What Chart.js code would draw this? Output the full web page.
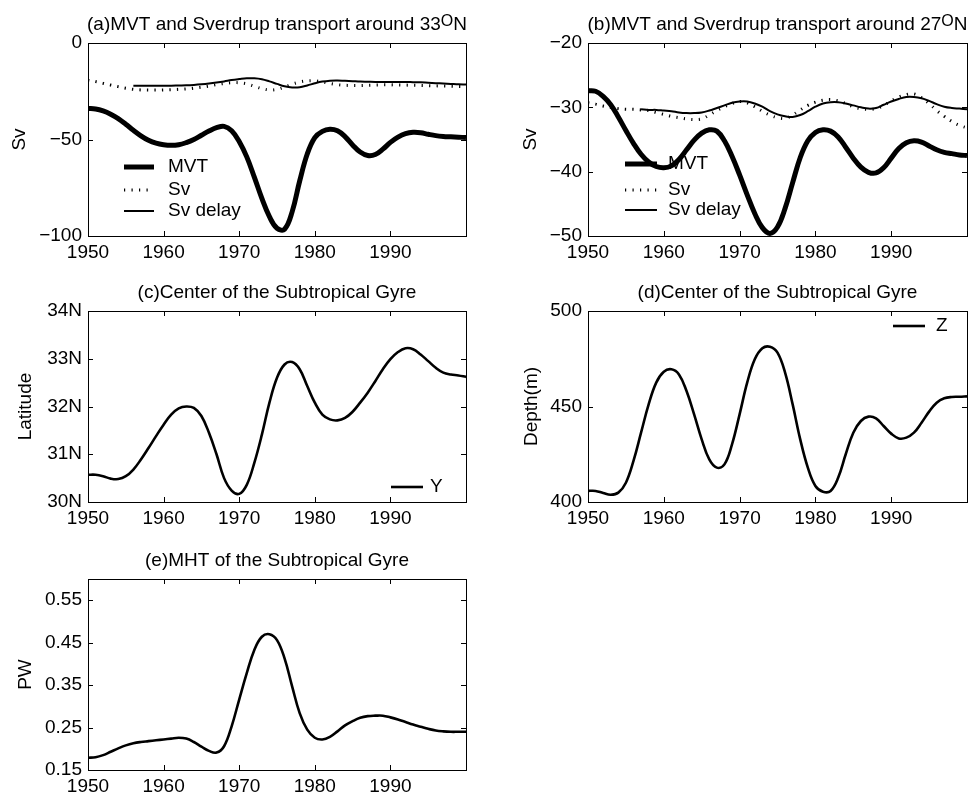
<!DOCTYPE html>
<html>
<head>
<meta charset="utf-8">
<script src="https://cdn.jsdelivr.net/npm/chart.js@4.4.1/dist/chart.umd.min.js"></script>
<style>
  body { margin: 0; background: #fff; }
  #wrap { position: relative; width: 974px; height: 798px; }
  canvas { position: absolute; }
</style>
</head>
<body>
<div id="wrap">
  <canvas id="chartA" width="487" height="268" style="left:0;top:0"></canvas>
  <canvas id="chartB" width="487" height="268" style="left:487px;top:0"></canvas>
  <canvas id="chartC" width="487" height="268" style="left:0;top:268px"></canvas>
  <canvas id="chartD" width="487" height="268" style="left:487px;top:268px"></canvas>
  <canvas id="chartE" width="487" height="262" style="left:0;top:536px"></canvas>
</div>
<script>
const FONT = '"Liberation Sans", Arial, Helvetica, sans-serif';

const years = [1950,1951,1952,1953,1954,1955,1956,1957,1958,1959,
  1960,1961,1962,1963,1964,1965,1966,1967,1968,1969,
  1970,1971,1972,1973,1974,1975,1976,1977,1978,1979,
  1980,1981,1982,1983,1984,1985,1986,1987,1988,1989,
  1990,1991,1992,1993,1994,1995,1996,1997,1998,1999,2000];
const xTicks = [1950, 1960, 1970, 1980, 1990];

// (a) around 33N
const mvtA = [-33.9,-34.2,-35.2,-36.9,-39.2,-42.1,-45.2,-48.1,-50.4,-51.9,
  -52.7,-53.0,-52.7,-51.6,-50.0,-47.8,-45.6,-43.9,-43.2,-45.5,
  -51.0,-59.0,-69.5,-80.5,-90.0,-96.0,-96.5,-87.5,-71.5,-57.5,
  -49.0,-45.8,-44.7,-45.5,-48.5,-52.8,-56.5,-58.3,-57.8,-55.0,
  -51.5,-48.8,-47.0,-46.3,-46.5,-47.3,-48.0,-48.4,-48.6,-48.8,-49.0];
const svA = [-19.3,-20.0,-20.9,-21.8,-22.6,-23.4,-24.0,-24.3,-24.4,-24.4,
  -24.3,-24.2,-24.0,-23.8,-23.4,-22.9,-22.3,-21.6,-21.0,-20.6,
  -20.6,-21.2,-22.4,-23.6,-24.3,-24.0,-22.8,-21.3,-20.2,-19.6,
  -19.6,-20.2,-21.0,-21.6,-21.9,-22.0,-22.0,-21.9,-21.8,-21.7,
  -21.7,-21.7,-21.8,-21.9,-22.0,-22.1,-22.2,-22.3,-22.4,-22.5,-22.6];
const svDelayA = [null,null,null,null,null,null,-22.1,-22.1,-22.1,-22.1,
  -22.1,-22.1,-22.0,-21.9,-21.7,-21.4,-21.0,-20.5,-19.9,-19.2,
  -18.7,-18.3,-18.3,-18.8,-19.9,-21.2,-22.4,-23.0,-22.9,-22.0,
  -20.9,-20.0,-19.5,-19.4,-19.6,-19.8,-20.0,-20.1,-20.2,-20.2,
  -20.2,-20.2,-20.2,-20.3,-20.4,-20.6,-20.8,-21.0,-21.2,-21.4,-21.5];
const yTicksA = [-100, -50, 0];

// (b) around 27N
const mvtB = [-27.4,-27.5,-28.3,-29.6,-31.5,-33.6,-35.6,-37.3,-38.5,-39.2,
  -39.4,-39.1,-38.1,-36.6,-35.1,-34.0,-33.5,-33.7,-35.2,-37.6,
  -40.5,-43.6,-46.5,-48.7,-49.6,-48.6,-45.7,-41.7,-37.8,-35.2,
  -33.9,-33.5,-33.7,-34.6,-36.2,-37.9,-39.3,-40.1,-40.2,-39.4,
  -37.9,-36.4,-35.5,-35.2,-35.4,-36.0,-36.6,-37.0,-37.2,-37.4,-37.5];
const svB = [-29.3,-29.5,-29.8,-30.0,-30.2,-30.3,-30.3,-30.4,-30.5,-30.8,
  -31.1,-31.4,-31.6,-31.8,-31.9,-31.8,-31.2,-30.5,-29.9,-29.4,
  -29.1,-29.3,-29.9,-30.6,-31.2,-31.6,-31.7,-31.2,-30.4,-29.7,
  -29.2,-28.9,-28.8,-29.0,-29.4,-29.9,-30.2,-30.3,-30.2,-29.7,
  -29.0,-28.4,-28.0,-27.9,-28.5,-29.4,-30.5,-31.4,-32.2,-32.8,-33.2];
const svDelayB = [null,null,null,null,null,null,null,-30.3,-30.4,-30.4,
  -30.5,-30.6,-30.8,-30.9,-30.9,-30.8,-30.5,-30.1,-29.7,-29.3,
  -29.1,-29.1,-29.4,-29.9,-30.6,-31.1,-31.4,-31.5,-31.2,-30.6,
  -29.9,-29.4,-29.2,-29.2,-29.4,-29.7,-30.0,-30.2,-30.1,-29.6,
  -29.1,-28.7,-28.4,-28.4,-28.6,-29.0,-29.5,-29.9,-30.1,-30.2,-30.3];
const yTicksB = [-50, -40, -30, -20];

// (c) latitude of gyre centre
const latY = [30.57,30.57,30.54,30.49,30.48,30.54,30.68,30.89,31.13,31.38,
  31.62,31.83,31.96,32.0,31.97,31.8,31.45,31.0,30.5,30.24,
  30.17,30.36,30.82,31.41,32.08,32.6,32.88,32.93,32.78,32.43,
  32.08,31.83,31.73,31.71,31.76,31.89,32.08,32.29,32.53,32.78,
  32.99,33.14,33.22,33.2,33.09,32.95,32.81,32.71,32.67,32.65,32.62];
const yTicksC = [30, 31, 32, 33, 34];

// (d) depth of gyre centre
const depthZ = [405.8,405.8,404.7,403.8,404.9,410.1,421.5,436.3,451.1,462.5,
  468.2,469.5,466.8,458.1,445.9,432.8,422.3,418.0,419.7,430.2,
  445.9,462.5,474.7,480.5,481.3,478.2,467.7,451.1,432.8,418.0,
  408.4,405.4,405.8,412.7,425.0,436.3,442.4,444.7,443.8,439.8,
  435.8,433.3,433.7,436.3,441.5,447.3,452.0,454.3,455.0,455.1,455.3];
const yTicksD = [400, 450, 500];

// (e) MHT
const mhtE = [0.179,0.18,0.185,0.193,0.201,0.208,0.213,0.216,0.218,0.22,
  0.222,0.224,0.226,0.224,0.216,0.205,0.195,0.191,0.206,0.253,
  0.316,0.378,0.433,0.464,0.47,0.456,0.413,0.347,0.284,0.245,
  0.226,0.222,0.228,0.241,0.255,0.265,0.273,0.277,0.278,0.278,
  0.274,0.269,0.263,0.257,0.252,0.247,0.243,0.241,0.24,0.24,0.24];
const yTicksE = [0.15, 0.25, 0.35, 0.45, 0.55];

Chart.defaults.font.family = FONT;
Chart.defaults.font.size = 19;
Chart.defaults.color = '#000';

// matlab style box with inward ticks on all sides
const boxTicks = {
  id: 'boxTicks',
  afterDatasetsDraw(chart) {
    const {ctx, chartArea: a, scales: {x, y}} = chart;
    ctx.save();
    ctx.strokeStyle = '#000';
    ctx.lineWidth = 1;
    ctx.beginPath();
    x.ticks.forEach(t => {
      if (t.value <= x.min || t.value >= x.max) return;
      const px = Math.round(x.getPixelForValue(t.value)) + 0.5;
      ctx.moveTo(px, a.bottom); ctx.lineTo(px, a.bottom - 5);
      ctx.moveTo(px, a.top); ctx.lineTo(px, a.top + 5);
    });
    y.ticks.forEach(t => {
      if (t.value <= y.min || t.value >= y.max) return;
      const py = Math.round(y.getPixelForValue(t.value)) + 0.5;
      ctx.moveTo(a.left, py); ctx.lineTo(a.left + 5, py);
      ctx.moveTo(a.right, py); ctx.lineTo(a.right - 5, py);
    });
    ctx.stroke();
    ctx.strokeRect(Math.round(a.left) + 0.5, Math.round(a.top) + 0.5,
      Math.round(a.right - a.left), Math.round(a.bottom - a.top));
    ctx.restore();
  }
};

// title with optional superscript part
const panelTitle = {
  id: 'panelTitle',
  afterDraw(chart, args, opts) {
    const {ctx, chartArea: a} = chart;
    const big = '19px ' + FONT, small = '16px ' + FONT;
    ctx.save();
    ctx.fillStyle = '#000';
    ctx.textAlign = 'left';
    ctx.textBaseline = 'alphabetic';
    ctx.font = big;
    const w1 = ctx.measureText(opts.text).width;
    let w2 = 0, w3 = 0;
    if (opts.sup) {
      w3 = ctx.measureText(opts.after).width;
      ctx.font = small;
      w2 = ctx.measureText(opts.sup).width;
    }
    let x = (a.left + a.right) / 2 - (w1 + w2 + w3) / 2;
    ctx.font = big;
    ctx.fillText(opts.text, x, 29.5);
    if (opts.sup) {
      x += w1;
      ctx.font = small;
      ctx.fillText(opts.sup, x, 26);
      x += w2;
      ctx.font = big;
      ctx.fillText(opts.after, x, 29.5);
    }
    ctx.restore();
  }
};

// legend drawn inside the axes, no frame
const innerLegend = {
  id: 'innerLegend',
  afterDatasetsDraw(chart, args, opts) {
    const {ctx, chartArea: a} = chart;
    ctx.save();
    ctx.font = '19px ' + FONT;
    ctx.fillStyle = '#000';
    ctx.textBaseline = 'middle';
    chart.data.datasets.forEach((ds, i) => {
      const yy = a.top + opts.rows[i];
      ctx.strokeStyle = '#000';
      ctx.lineWidth = ds.borderWidth;
      ctx.setLineDash(ds.borderDash || []);
      ctx.beginPath();
      ctx.moveTo(a.left + opts.x0, yy);
      ctx.lineTo(a.left + opts.x1, yy);
      ctx.stroke();
      ctx.setLineDash([]);
      ctx.fillText(ds.label, a.left + opts.tx, yy);
    });
    ctx.restore();
  }
};

const pts = arr => years.map((yr, i) => ({x: yr, y: arr[i]}));

function line(label, arr, width, dash) {
  return {
    label: label,
    data: pts(arr),
    borderColor: '#000',
    borderWidth: width,
    borderDash: dash || [],
    pointRadius: 0,
    fill: false,
    tension: 0.4,
    spanGaps: false
  };
}

function scales(o) {
  return {
    x: {
      type: 'linear', min: 1950, max: 2000,
      afterBuildTicks: s => { s.ticks = xTicks.map(v => ({value: v})); },
      afterFit: s => { s.height = o.xh; },
      grid: {display: false, drawTicks: false},
      border: {display: false},
      ticks: {padding: 5, maxRotation: 0, autoSkip: false, callback: v => String(v)}
    },
    y: {
      type: 'linear', min: o.min, max: o.max,
      afterBuildTicks: s => { s.ticks = o.ticks.map(v => ({value: v})); },
      afterFit: s => { s.width = o.yw; },
      grid: {display: false, drawTicks: false},
      border: {display: false},
      ticks: {padding: 6, autoSkip: false, callback: o.fmt},
      title: {display: true, text: o.title, padding: {top: o.tp, bottom: 0}, font: {size: 19}}
    }
  };
}

function makeChart(id, datasets, sc, pad, title, legend) {
  const plugins = [boxTicks, panelTitle];
  if (legend) plugins.push(innerLegend);
  return new Chart(document.getElementById(id), {
    type: 'line',
    data: {datasets: datasets},
    options: {
      responsive: false,
      animation: false,
      devicePixelRatio: 1,
      events: [],
      layout: {padding: pad},
      scales: sc,
      plugins: {
        legend: {display: false},
        tooltip: {enabled: false},
        title: {display: false},
        panelTitle: title,
        innerLegend: legend || {}
      }
    },
    plugins: plugins
  });
}

const minus = v => String(v).replace('-', '\u2212');

makeChart('chartA',
  [line('MVT', mvtA, 5), line('Sv', svA, 3, [1.2, 6.3]), line('Sv delay', svDelayA, 2)],
  scales({min: -100, max: 0, ticks: yTicksA, fmt: minus, title: 'Sv', tp: 8, yw: 88, xh: 32}),
  {left: 0, top: 43, right: 21, bottom: 0},
  {text: '(a)MVT and Sverdrup transport around 33', sup: 'O', after: 'N'},
  {x0: 36, x1: 66, tx: 80, rows: [124, 147, 168]});

makeChart('chartB',
  [line('MVT', mvtB, 5), line('Sv', svB, 3, [1.2, 6.3]), line('Sv delay', svDelayB, 2)],
  scales({min: -50, max: -20, ticks: yTicksB, fmt: minus, title: 'Sv', tp: 32.5, yw: 101, xh: 32}),
  {left: 0, top: 43, right: 7, bottom: 0},
  {text: '(b)MVT and Sverdrup transport around 27', sup: 'O', after: 'N'},
  {x0: 37, x1: 69, tx: 80, rows: [121, 147, 167]});

makeChart('chartC',
  [line('Y', latY, 2.6)],
  scales({min: 30, max: 34, ticks: yTicksC, fmt: v => v + 'N', title: 'Latitude', tp: 14, yw: 88, xh: 34}),
  {left: 0, top: 43, right: 21, bottom: 0},
  {text: '(c)Center of the Subtropical Gyre'},
  {x0: 303, x1: 335, tx: 342, rows: [176]});

makeChart('chartD',
  [line('Z', depthZ, 2.6)],
  scales({min: 400, max: 500, ticks: yTicksD, fmt: v => String(v), title: 'Depth(m)', tp: 33.5, yw: 101, xh: 34}),
  {left: 0, top: 43, right: 7, bottom: 0},
  {text: '(d)Center of the Subtropical Gyre'},
  {x0: 305, x1: 337, tx: 348, rows: [15]});

makeChart('chartE',
  [line('MHT', mhtE, 2.6)],
  scales({min: 0.15, max: 0.6, ticks: yTicksE, fmt: v => v.toFixed(2), title: 'PW', tp: 14, yw: 88, xh: 28}),
  {left: 0, top: 43, right: 21, bottom: 0},
  {text: '(e)MHT of the Subtropical Gyre'},
  null);
</script>
</body>
</html>
